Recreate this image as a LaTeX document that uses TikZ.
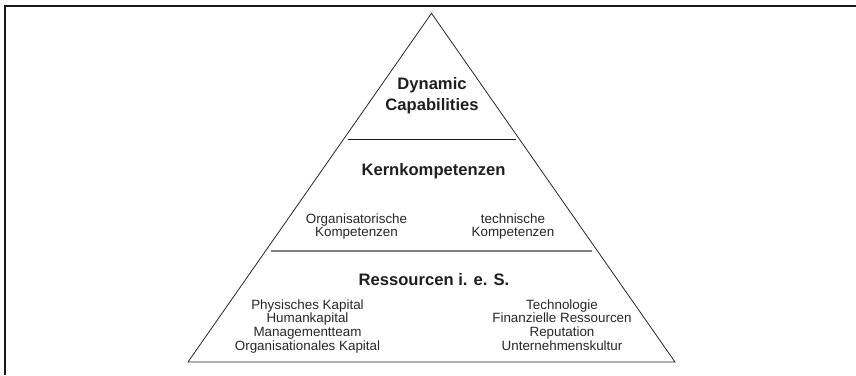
\documentclass[tikz,border=0pt]{standalone}
\usepackage{fontspec}
\setmainfont{Liberation Sans}
\begin{document}
\begin{tikzpicture}[x=1pt,y=-1pt,
  title/.style={font=\fontsize{16.6}{20}\selectfont\bfseries, anchor=base, inner sep=0pt, text=black!88},
  item/.style={font=\fontsize{13.4}{14}\selectfont, anchor=base, inner sep=0pt, text=black!85},
  frameline/.style={line width=1.7pt, black!90},
  edge/.style={line width=0.8pt, black!85},
  upperdiv/.style={line width=0.9pt, black!90},
  lowerdiv/.style={line width=1.8pt, black!50}]
\useasboundingbox (0,0) rectangle (856,375);

% outer frame (left and top sides)
\draw[frameline] (5,375) -- (5,6) -- (856,6);

% pyramid
\coordinate (apex) at (431.5,13.3);
\coordinate (bl) at (188,362);
\coordinate (br) at (675,362);
\draw[edge, line join=miter] (bl) -- (apex) -- (br) -- cycle;

% level dividers
\coordinate (d1l) at (347.5,139);
\coordinate (d1r) at (515.5,139);
\draw[upperdiv] (d1l) -- (d1r);
\coordinate (d2l) at (271,250.7);
\coordinate (d2r) at (592,250.7);
\draw[lowerdiv] (d2l) -- (d2r);

% top level
\node[title] (dyn) at (432,89) {Dynamic};
\node[title] (cap) at (432,110) {Capabilities};

% middle level
\node[title] (kern) at (433.5,175.5) {Kernkompetenzen};
\node[item] (org1) at (356.5,223) {Organisatorische};
\node[item] (org2) at (356.5,236.3) {Kompetenzen};
\node[item] (tec1) at (513,223) {technische};
\node[item] (tec2) at (513,236.3) {Kompetenzen};

% bottom level
\node[title] (res) at (434,285.5) {Ressourcen i. e. S.};
\node[item] (l1) at (307.5,309) {Physisches Kapital};
\node[item] (l2) at (307.5,322.7) {Humankapital};
\node[item] (l3) at (307.5,336.4) {Managementteam};
\node[item] (l4) at (307.5,350.1) {Organisationales Kapital};
\node[item] (r1) at (562,309) {Technologie};
\node[item] (r2) at (562,322.7) {Finanzielle Ressourcen};
\node[item] (r3) at (562,336.4) {Reputation};
\node[item] (r4) at (562,350.1) {Unternehmenskultur};
\end{tikzpicture}
\end{document}
